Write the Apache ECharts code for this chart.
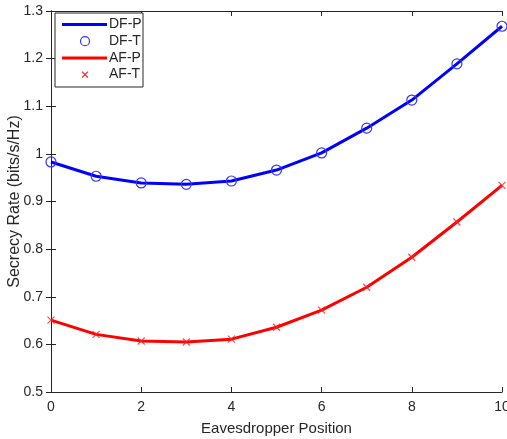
<!DOCTYPE html>
<html><head><meta charset="utf-8">
<script src="https://cdn.jsdelivr.net/npm/echarts@6/dist/echarts.min.js"></script>
<style>html,body{margin:0;padding:0;background:#fff}#c{width:507px;height:439px}</style>
</head><body><div id="c"></div>
<script>
var positions = [0,1,2,3,4,5,6,7,8,9,10];
var dfP = [0.983,0.953,0.939,0.936,0.943,0.966,1.002,1.054,1.113,1.189,1.268];
var dfT = [0.983,0.953,0.939,0.936,0.943,0.966,1.002,1.054,1.113,1.189,1.268];
var afP = [0.651,0.621,0.607,0.605,0.611,0.636,0.672,0.720,0.783,0.857,0.934];
var afT = [0.651,0.621,0.607,0.605,0.611,0.636,0.672,0.720,0.783,0.857,0.934];
var seriesNames = ['DF-P','DF-T','AF-P','AF-T'];
var xTicks = [0,2,4,6,8,10];

function pairs(xs, ys){ return xs.map(function(x,i){return [x, ys[i]];}); }
var font = 'Liberation Sans, Arial, sans-serif';
var txt = '#262626';
var blue = '#0000ff', blueMk = '#3535ff', red = '#ff0000', redMk = '#ff2020';
var chart = echarts.init(document.getElementById('c'));
var axLine = {show:true, lineStyle:{color:'#262626', width:1}};
var tick = {show:true, inside:true, length:5, lineStyle:{color:'#262626'}};

// legend drawn as graphic (MATLAB style box)
var lgX = 55, lgY = 13, lgW = 88, lgH = 74, rowH = 16.7, row0 = 24.5;
var legendEls = [{type:'rect', shape:{x:lgX, y:lgY, width:lgW, height:lgH},
  style:{fill:'#fff', stroke:'#262626', lineWidth:1}, z:100}];
seriesNames.forEach(function(n,i){
  var cy = row0 + i*rowH;
  if (i===0 || i===2) {
    legendEls.push({type:'line', shape:{x1:62, y1:cy, x2:107, y2:cy},
      style:{stroke: i===0?blue:red, lineWidth:3}, z:101});
  } else if (i===1) {
    legendEls.push({type:'circle', shape:{cx:85, cy:cy, r:4.5},
      style:{fill:'none', stroke:blueMk, lineWidth:1.2}, z:101});
  } else {
    legendEls.push({type:'polyline', shape:{points:[[82,cy-3],[88,cy+3]]}, style:{stroke:redMk, lineWidth:1.2}, z:101});
    legendEls.push({type:'polyline', shape:{points:[[88,cy-3],[82,cy+3]]}, style:{stroke:redMk, lineWidth:1.2}, z:101});
  }
  legendEls.push({type:'text', x:109, y:cy, style:{text:n, fill:txt, font:'14px '+font, verticalAlign:'middle'}, z:101});
});

chart.setOption({
  animation:false,
  backgroundColor:'#fff',
  grid:{left:51, right:5, top:11, bottom:47, containLabel:false, outerBoundsMode:'none'},
  xAxis:[{
    type:'value', min:0, max:10, interval:2,
    axisLine:axLine, axisTick:tick, splitLine:{show:false},
    axisLabel:{color:txt, fontFamily:font, fontSize:14, margin:8, formatter:function(v){return xTicks.indexOf(v)>=0?String(v):'';}},
    name:'Eavesdropper Position', nameLocation:'middle', nameGap:29, nameMoveOverlap:false,
    nameTextStyle:{color:txt, fontFamily:font, fontSize:15}
  },{
    type:'value', min:0, max:10, interval:2, position:'top',
    axisLine:axLine, axisTick:tick, axisLabel:{show:false}, splitLine:{show:false}
  }],
  yAxis:[{
    type:'value', min:0.5, max:1.3, interval:0.1,
    axisLine:axLine, axisTick:tick, splitLine:{show:false},
    axisLabel:{color:txt, fontFamily:font, fontSize:14, margin:8, formatter:function(v){var r=Math.round(v*10)/10; return String(r);}},
    name:'Secrecy Rate (bits/s/Hz)', nameLocation:'middle', nameGap:28, nameMoveOverlap:false,
    nameTextStyle:{color:txt, fontFamily:font, fontSize:16}
  },{
    type:'value', min:0.5, max:1.3, interval:0.1, position:'right',
    axisLine:axLine, axisTick:tick, axisLabel:{show:false}, splitLine:{show:false}
  }],
  graphic: legendEls,
  series:[
    {name:seriesNames[0], type:'line', data:pairs(positions, dfP), symbol:'none',
     lineStyle:{color:blue, width:3}, itemStyle:{color:blue}, z:2},
    {name:seriesNames[1], type:'scatter', data:pairs(positions, dfT), symbol:'circle', symbolSize:10,
     itemStyle:{color:'rgba(0,0,0,0)', borderColor:blueMk, borderWidth:1.2, opacity:1}, z:3},
    {name:seriesNames[2], type:'line', data:pairs(positions, afP), symbol:'none',
     lineStyle:{color:red, width:3}, itemStyle:{color:red}, z:2},
    {name:seriesNames[3], type:'scatter', data:pairs(positions, afT), symbol:'path://M0,0L10,10M10,0L0,10', symbolSize:7,
     itemStyle:{color:'none', borderColor:redMk, borderWidth:1.2}, z:3}
  ]
});
</script></body></html>
